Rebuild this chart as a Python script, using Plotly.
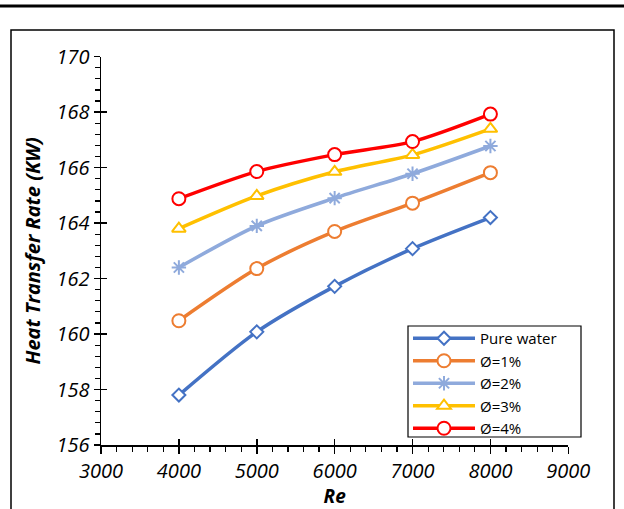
import plotly.graph_objects as go

re_values = [4000, 5000, 6000, 7000, 8000]
pure_water = [157.8, 160.08, 161.72, 163.08, 164.2]
phi_1 = [160.48, 162.36, 163.7, 164.72, 165.82]
phi_2 = [162.4, 163.9, 164.9, 165.78, 166.78]
phi_3 = [163.8, 164.98, 165.85, 166.46, 167.4]
phi_4 = [164.88, 165.86, 166.47, 166.94, 167.93]

x_ticks = [3000, 4000, 5000, 6000, 7000, 8000, 9000]
y_ticks = [156, 158, 160, 162, 164, 166, 168, 170]

series_names = ["Pure water", "\u00d8=1%", "\u00d8=2%", "\u00d8=3%", "\u00d8=4%"]
series_values = [pure_water, phi_1, phi_2, phi_3, phi_4]
colors = ["#4472C4", "#ED7D31", "#8FAADC", "#FFC000", "#FF0000"]
symbols = ["diamond", "circle", "asterisk-open", "triangle-up", "circle"]
sizes = [10, 13, 12, 12, 13]

FONT = "Open Sans"

fig = go.Figure()
for name, vals, col, sym, sz in zip(series_names, series_values, colors, symbols, sizes):
    fig.add_trace(go.Scatter(
        x=re_values, y=vals, name=name, mode="lines+markers",
        line=dict(color=col, width=3.5, shape="spline", smoothing=0.8),
        marker=dict(symbol=sym, size=sz, color="white" if sym != "asterisk-open" else col,
                    line=dict(color=col, width=2)),
    ))

fig.add_trace(go.Scatter(x=[3000], y=[156], xaxis="x2", yaxis="y2",
                         mode="markers", marker=dict(opacity=0), showlegend=False,
                         hoverinfo="skip"))

xd = [101 / 624, 568.3 / 624]
yd = [(509 - 445) / 509, (509 - 56.7) / 509]

fig.update_layout(
    width=624, height=509,
    margin=dict(l=0, r=0, t=0, b=0),
    paper_bgcolor="white", plot_bgcolor="white",
    font=dict(family=FONT, color="black"),
    showlegend=True, hovermode=False,
    xaxis=dict(domain=xd, range=[3000, 9000], automargin=False,
               tickmode="array", tickvals=x_ticks, ticktext=[f"<i>{v}</i>" for v in x_ticks],
               showgrid=False, zeroline=False,
               showline=True, linecolor="black", linewidth=1.5,
               ticks="outside", ticklen=7, tickwidth=1.5, tickcolor="black",
               minor=dict(ticks="outside", dtick=200, tick0=3000, ticklen=5, tickwidth=1.2, tickcolor="black"),
               tickfont=dict(family=FONT, size=20),
               title=dict(text="<b><i>Re</i></b>", font=dict(family=FONT, size=19), standoff=1)),
    yaxis=dict(domain=yd, range=[156, 170], automargin=False,
               tickmode="array", tickvals=y_ticks, ticktext=[f"<i>{v}</i>" for v in y_ticks],
               showgrid=False, zeroline=False,
               showline=True, linecolor="black", linewidth=1.5,
               ticks="outside", ticklen=6, tickwidth=1.5, tickcolor="black",
               minor=dict(ticks="outside", dtick=0.4, tick0=156, ticklen=5, tickwidth=1.2, tickcolor="black"),
               tickfont=dict(family=FONT, size=20),
               title=dict(text="<b><i>Heat Transfer Rate (KW)</i></b>", font=dict(family=FONT, size=20), standoff=10)),
    xaxis2=dict(domain=xd, range=[3000, 9000], tickmode="array", tickvals=x_ticks, overlaying="x",
                anchor="y2", side="bottom", showgrid=False, zeroline=False, showline=False,
                ticks="inside", ticklen=6, tickwidth=1.5, tickcolor="black", showticklabels=False),
    yaxis2=dict(domain=yd, range=[156, 170], tickmode="array", tickvals=y_ticks, overlaying="y",
                anchor="x2", side="left", showgrid=False, zeroline=False, showline=False,
                ticks="inside", ticklen=6, tickwidth=1.5, tickcolor="black", showticklabels=False),
    legend=dict(x=408 / 624, y=(509 - 322) / 509, xanchor="left", yanchor="top",
                bgcolor="rgba(0,0,0,0)", borderwidth=0,
                font=dict(family=FONT, size=15), tracegroupgap=0, itemwidth=62),
    shapes=[
        dict(type="line", xref="paper", yref="paper", x0=0, x1=1,
             y0=(509 - 6) / 509, y1=(509 - 6) / 509, line=dict(color="black", width=3)),
        dict(type="rect", xref="paper", yref="paper", x0=11 / 624, x1=614 / 624,
             y0=-0.05, y1=(509 - 30) / 509, line=dict(color="black", width=1.5),
             layer="below"),
        dict(type="rect", xref="paper", yref="paper", x0=408 / 624, x1=581 / 624,
             y0=(509 - 437) / 509, y1=(509 - 326) / 509, line=dict(color="black", width=1.2),
             fillcolor="white", layer="above"),
    ],
)

fig.write_html("out.html", config={"displayModeBar": False, "staticPlot": True},
               post_script="document.body.style.margin='0';document.body.style.overflow='hidden';")
